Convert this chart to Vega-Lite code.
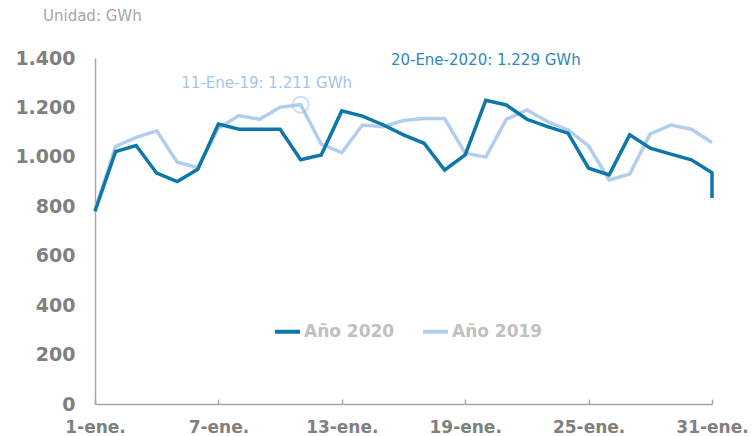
{
  "$schema": "https://vega.github.io/schema/vega-lite/v6.json",
  "autosize": {"type": "none"},
  "width": 617,
  "height": 346,
  "padding": {"left": 95, "top": 58, "right": 40, "bottom": 32},
  "background": "white",
  "title": {
    "text": "Unidad: GWh",
    "anchor": "start",
    "frame": "group",
    "orient": "top",
    "dx": -52,
    "offset": 25,
    "font": "DejaVu Sans",
    "fontSize": 15,
    "fontWeight": "normal",
    "color": "#a6a6a6"
  },
  "config": {
    "view": {"stroke": null},
    "font": "DejaVu Sans"
  },
  "layer": [
    {
      "data": {
        "values": [
          {"day": 1, "serie": "Año 2019", "value": 786},
          {"day": 2, "serie": "Año 2019", "value": 1042},
          {"day": 3, "serie": "Año 2019", "value": 1079},
          {"day": 4, "serie": "Año 2019", "value": 1105},
          {"day": 5, "serie": "Año 2019", "value": 978},
          {"day": 6, "serie": "Año 2019", "value": 957},
          {"day": 7, "serie": "Año 2019", "value": 1116},
          {"day": 8, "serie": "Año 2019", "value": 1167},
          {"day": 9, "serie": "Año 2019", "value": 1152},
          {"day": 10, "serie": "Año 2019", "value": 1201},
          {"day": 11, "serie": "Año 2019", "value": 1211},
          {"day": 12, "serie": "Año 2019", "value": 1052},
          {"day": 13, "serie": "Año 2019", "value": 1017},
          {"day": 14, "serie": "Año 2019", "value": 1129},
          {"day": 15, "serie": "Año 2019", "value": 1122},
          {"day": 16, "serie": "Año 2019", "value": 1147},
          {"day": 17, "serie": "Año 2019", "value": 1155},
          {"day": 18, "serie": "Año 2019", "value": 1155},
          {"day": 19, "serie": "Año 2019", "value": 1015},
          {"day": 20, "serie": "Año 2019", "value": 999},
          {"day": 21, "serie": "Año 2019", "value": 1152},
          {"day": 22, "serie": "Año 2019", "value": 1190},
          {"day": 23, "serie": "Año 2019", "value": 1143},
          {"day": 24, "serie": "Año 2019", "value": 1109},
          {"day": 25, "serie": "Año 2019", "value": 1044},
          {"day": 26, "serie": "Año 2019", "value": 907},
          {"day": 27, "serie": "Año 2019", "value": 931},
          {"day": 28, "serie": "Año 2019", "value": 1093},
          {"day": 29, "serie": "Año 2019", "value": 1129},
          {"day": 30, "serie": "Año 2019", "value": 1112},
          {"day": 31, "serie": "Año 2019", "value": 1058},
          {"day": 1, "serie": "Año 2020", "value": 780},
          {"day": 2, "serie": "Año 2020", "value": 1021},
          {"day": 3, "serie": "Año 2020", "value": 1046},
          {"day": 4, "serie": "Año 2020", "value": 934},
          {"day": 5, "serie": "Año 2020", "value": 900},
          {"day": 6, "serie": "Año 2020", "value": 950},
          {"day": 7, "serie": "Año 2020", "value": 1133},
          {"day": 8, "serie": "Año 2020", "value": 1112},
          {"day": 9, "serie": "Año 2020", "value": 1112},
          {"day": 10, "serie": "Año 2020", "value": 1112},
          {"day": 11, "serie": "Año 2020", "value": 988},
          {"day": 12, "serie": "Año 2020", "value": 1008},
          {"day": 13, "serie": "Año 2020", "value": 1186},
          {"day": 14, "serie": "Año 2020", "value": 1165},
          {"day": 15, "serie": "Año 2020", "value": 1130},
          {"day": 16, "serie": "Año 2020", "value": 1089},
          {"day": 17, "serie": "Año 2020", "value": 1055},
          {"day": 18, "serie": "Año 2020", "value": 947},
          {"day": 19, "serie": "Año 2020", "value": 1008},
          {"day": 20, "serie": "Año 2020", "value": 1229},
          {"day": 21, "serie": "Año 2020", "value": 1210},
          {"day": 22, "serie": "Año 2020", "value": 1152},
          {"day": 23, "serie": "Año 2020", "value": 1122},
          {"day": 24, "serie": "Año 2020", "value": 1096},
          {"day": 25, "serie": "Año 2020", "value": 954},
          {"day": 26, "serie": "Año 2020", "value": 927},
          {"day": 27, "serie": "Año 2020", "value": 1089},
          {"day": 28, "serie": "Año 2020", "value": 1035},
          {"day": 29, "serie": "Año 2020", "value": 1011},
          {"day": 30, "serie": "Año 2020", "value": 988},
          {"day": 31, "serie": "Año 2020", "value": 936},
          {"day": 31, "serie": "Año 2020", "value": 834}
        ]
      },
      "mark": {"type": "line", "strokeWidth": 3.5, "strokeJoin": "miter", "clip": false},
      "encoding": {
        "x": {
          "field": "day",
          "type": "quantitative",
          "scale": {"domain": [1, 31], "nice": false, "zero": false},
          "axis": {
            "title": null,
            "values": [1, 7, 13, 19, 25, 31],
            "labelExpr": "datum.value + '-ene.'",
            "grid": false,
            "domainColor": "#a6a6a6",
            "domainWidth": 1.5,
            "tickColor": "#a6a6a6",
            "tickWidth": 1.5,
            "tickSize": -5,
            "labelPadding": 20,
            "labelFont": "DejaVu Sans",
            "labelFontSize": 17,
            "labelFontWeight": "bold",
            "labelColor": "#808080",
            "labelFlush": false,
            "labelOverlap": false
          }
        },
        "y": {
          "field": "value",
          "type": "quantitative",
          "scale": {"domain": [0, 1400], "nice": false},
          "axis": {
            "title": null,
            "values": [0, 200, 400, 600, 800, 1000, 1200, 1400],
            "labelExpr": "replace(format(datum.value, ','), ',', '.')",
            "grid": false,
            "ticks": false,
            "domainColor": "#a6a6a6",
            "domainWidth": 1.5,
            "labelPadding": 20,
            "labelFont": "DejaVu Sans",
            "labelFontSize": 19,
            "labelFontWeight": "bold",
            "labelColor": "#808080"
          }
        },
        "color": {
          "field": "serie",
          "type": "nominal",
          "scale": {"domain": ["Año 2020", "Año 2019"], "range": ["#0e77a8", "#b3cdee"]},
          "legend": {
            "title": null,
            "orient": "none",
            "direction": "horizontal",
            "legendX": 178,
            "legendY": 259,
            "symbolType": "stroke",
            "symbolSize": 625,
            "symbolStrokeWidth": 4,
            "labelOffset": 2,
            "columnPadding": 20,
            "labelFont": "DejaVu Sans",
            "labelFontSize": 17,
            "labelFontWeight": "bold",
            "labelColor": "#c0c0c0"
          }
        }
      }
    },
    {
      "data": {"values": [{"day": 11, "value": 1211}]},
      "mark": {"type": "point", "filled": false, "size": 254, "stroke": "#a9c7ec", "strokeWidth": 1.5},
      "encoding": {
        "x": {"field": "day", "type": "quantitative"},
        "y": {"field": "value", "type": "quantitative"}
      }
    },
    {
      "data": {"values": [{"day": 11, "value": 1211, "label": "11-Ene-19: 1.211 GWh"}]},
      "mark": {"type": "text", "font": "DejaVu Sans", "fontSize": 15, "color": "#a3c4ea", "dx": -34, "dy": -22},
      "encoding": {
        "x": {"field": "day", "type": "quantitative"},
        "y": {"field": "value", "type": "quantitative"},
        "text": {"field": "label"}
      }
    },
    {
      "data": {"values": [{"day": 20, "value": 1229, "label": "20-Ene-2020: 1.229 GWh"}]},
      "mark": {"type": "text", "font": "DejaVu Sans", "fontSize": 15, "color": "#2f88bd", "dx": 0, "dy": -40},
      "encoding": {
        "x": {"field": "day", "type": "quantitative"},
        "y": {"field": "value", "type": "quantitative"},
        "text": {"field": "label"}
      }
    }
  ]
}
